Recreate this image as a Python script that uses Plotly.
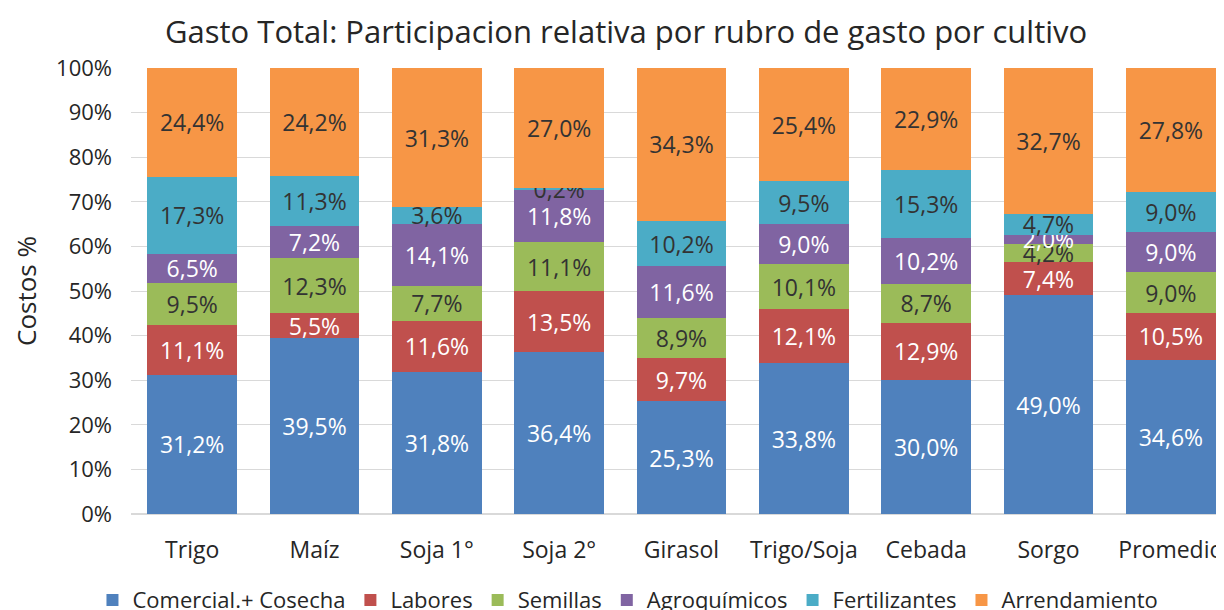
import plotly.graph_objects as go

categories = ["Trigo", "Maíz", "Soja 1°", "Soja 2°", "Girasol", "Trigo/Soja", "Cebada", "Sorgo", "Promedio"]
series_names = ["Comercial.+ Cosecha", "Labores", "Semillas", "Agroquímicos", "Fertilizantes", "Arrendamiento"]
comercial = [31.2, 39.5, 31.8, 36.4, 25.3, 33.8, 30.0, 49.0, 34.6]
labores = [11.1, 5.5, 11.6, 13.5, 9.7, 12.1, 12.9, 7.4, 10.5]
semillas = [9.5, 12.3, 7.7, 11.1, 8.9, 10.1, 8.7, 4.2, 9.0]
agroquimicos = [6.5, 7.2, 14.1, 11.8, 11.6, 9.0, 10.2, 2.0, 9.0]
fertilizantes = [17.3, 11.3, 3.6, 0.2, 10.2, 9.5, 15.3, 4.7, 9.0]
arrendamiento = [24.4, 24.2, 31.3, 27.0, 34.3, 25.4, 22.9, 32.7, 27.8]
y_ticks = [0, 10, 20, 30, 40, 50, 60, 70, 80, 90, 100]
y_tick_labels = [f"{v}%" for v in y_ticks]

series = [comercial, labores, semillas, agroquimicos, fertilizantes, arrendamiento]
colors = ["#4F81BD", "#C0504D", "#9BBB59", "#8064A2", "#4BACC6", "#F79646"]
text_colors = ["white", "white", "#333333", "white", "#333333", "#333333"]

FONT = "Open Sans"
fig = go.Figure()
for name, vals, c, tc in zip(series_names, series, colors, text_colors):
    fig.add_trace(go.Bar(
        x=categories, y=vals, name=name,
        marker=dict(color=c, line=dict(width=0)),
        text=[f"{v:.1f}".replace(".", ",") + "%" for v in vals],
        textposition="inside", insidetextanchor="middle",
        textfont=dict(color=tc, size=23, family=FONT),
        constraintext="none", cliponaxis=False,
    ))

fig.update_layout(
    barmode="stack", barnorm="percent", bargap=0.265,
    width=1224, height=610,
    paper_bgcolor="white", plot_bgcolor="white",
    margin=dict(l=123, r=0, t=60, b=104, autoexpand=False),
    font=dict(family=FONT, color="#262626"),
    title=dict(text="Gasto Total: Participacion relativa por rubro de gasto por cultivo",
               x=0.505, xanchor="center", y=0.961, yanchor="middle",
               font=dict(size=31, family=FONT, color="#262626")),
    uniformtext=dict(minsize=23, mode="show"),
    legend=dict(orientation="h", x=-0.035, xanchor="left", y=-0.193, yanchor="middle",
                font=dict(size=22, family=FONT), traceorder="normal",
                itemwidth=30),
    showlegend=True,
)
fig.update_xaxes(range=[-0.5, 8.5], showgrid=False, tickfont=dict(size=23, family=FONT),
                 showline=False, ticks="", ticklabelstandoff=20)
fig.update_yaxes(range=[0, 100], tickvals=y_ticks, ticktext=y_tick_labels,
                 showgrid=True, gridcolor="#D9D9D9", gridwidth=1,
                 zeroline=True, zerolinecolor="#D9D9D9",
                 tickfont=dict(size=22, family=FONT), ticklabelstandoff=18,
                 title=dict(text="Costos %", font=dict(size=26, family=FONT), standoff=14))
fig.write_html("out.html")
